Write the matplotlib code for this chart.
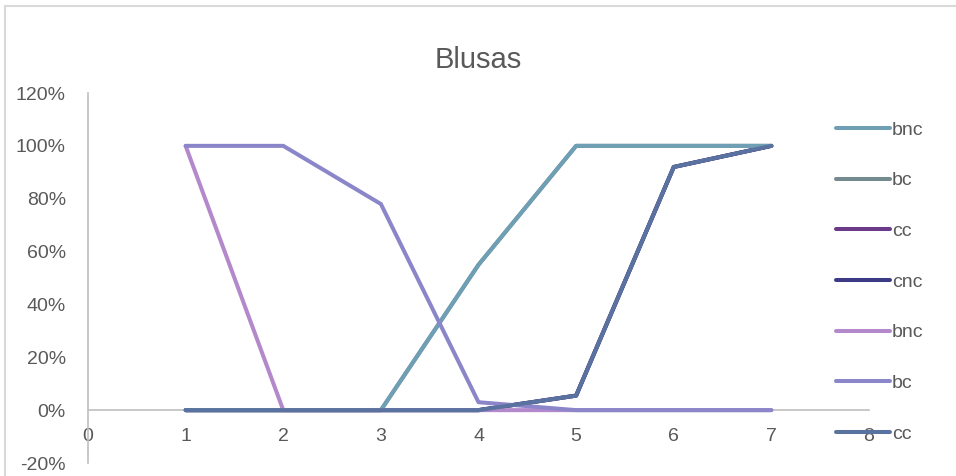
import matplotlib.pyplot as plt
from matplotlib.patches import Rectangle
from matplotlib.ticker import FuncFormatter

plt.rcParams['font.family'] = ['Liberation Sans', 'DejaVu Sans']

x = [1, 2, 3, 4, 5, 6, 7]
labels = ['bnc', 'bc', 'cc', 'cnc', 'bnc', 'bc', 'cc']
bnc_1 = [0, 0, 0, 0.55, 1, 1, 1]
bc_1 = [0, 0, 0, 0.55, 1, 1, 1]
cc_1 = [0, 0, 0, 0, 0.055, 0.92, 1]
cnc_1 = [0, 0, 0, 0, 0.055, 0.92, 1]
bnc_2 = [1, 0, 0, 0, 0, 0, 0]
bc_2 = [1, 1, 0.78, 0.03, 0, 0, 0]
cc_2 = [0, 0, 0, 0, 0.055, 0.92, 1]

series = [bnc_1, bc_1, cc_1, cnc_1, bnc_2, bc_2, cc_2]
colors = ['#6e9fb5', '#758a8e', '#6b3a88', '#3e3b86', '#b389cc', '#8a86c9', '#5a729f']
zorders = [4, 3, 2, 2, 5, 6, 7]

fig = plt.figure(figsize=(9.56, 4.76), dpi=100)
# chart border
fig.patches.append(Rectangle((5 / 956, -0.1), 1.1, 1 - 6 / 476 + 0.1,
                             transform=fig.transFigure, fill=False,
                             edgecolor='#d9d9d9', linewidth=1.5))

ax = fig.add_axes([88 / 956, 1 - 463 / 476, (869 - 88) / 956, (463 - 93) / 476])
for ys, lab, c, z in zip(series, labels, colors, zorders):
    ax.plot(x, ys, color=c, linewidth=2.9, label=lab, zorder=z,
            solid_capstyle='round', solid_joinstyle='round')

ax.set_xlim(0, 8)
ax.set_ylim(-0.2, 1.2)
ax.set_xticks(range(9))
ax.set_yticks([-0.2, 0, 0.2, 0.4, 0.6, 0.8, 1.0, 1.2])
ax.yaxis.set_major_formatter(FuncFormatter(lambda v, p: f'{v * 100:.0f}%'))

for s in ['top', 'right']:
    ax.spines[s].set_visible(False)
ax.spines['bottom'].set_position(('data', 0))
ax.spines['bottom'].set_color('#bfbfbf')
ax.spines['left'].set_color('#bfbfbf')
ax.spines['bottom'].set_linewidth(1.2)
ax.spines['left'].set_linewidth(1.2)
ax.tick_params(length=0, labelsize=14, colors='#595959')
ax.tick_params(axis='x', pad=13)
ax.tick_params(axis='y', pad=16)

ax.set_title('Blusas', fontsize=21, color='#595959', pad=18)

ax.legend(loc='upper left', bbox_to_anchor=(0.948, 0.945), frameon=False,
          fontsize=14, labelcolor='#595959', handlelength=2.75,
          handletextpad=0.12, labelspacing=1.7, borderaxespad=0)

fig.savefig('out.png', dpi=100)
